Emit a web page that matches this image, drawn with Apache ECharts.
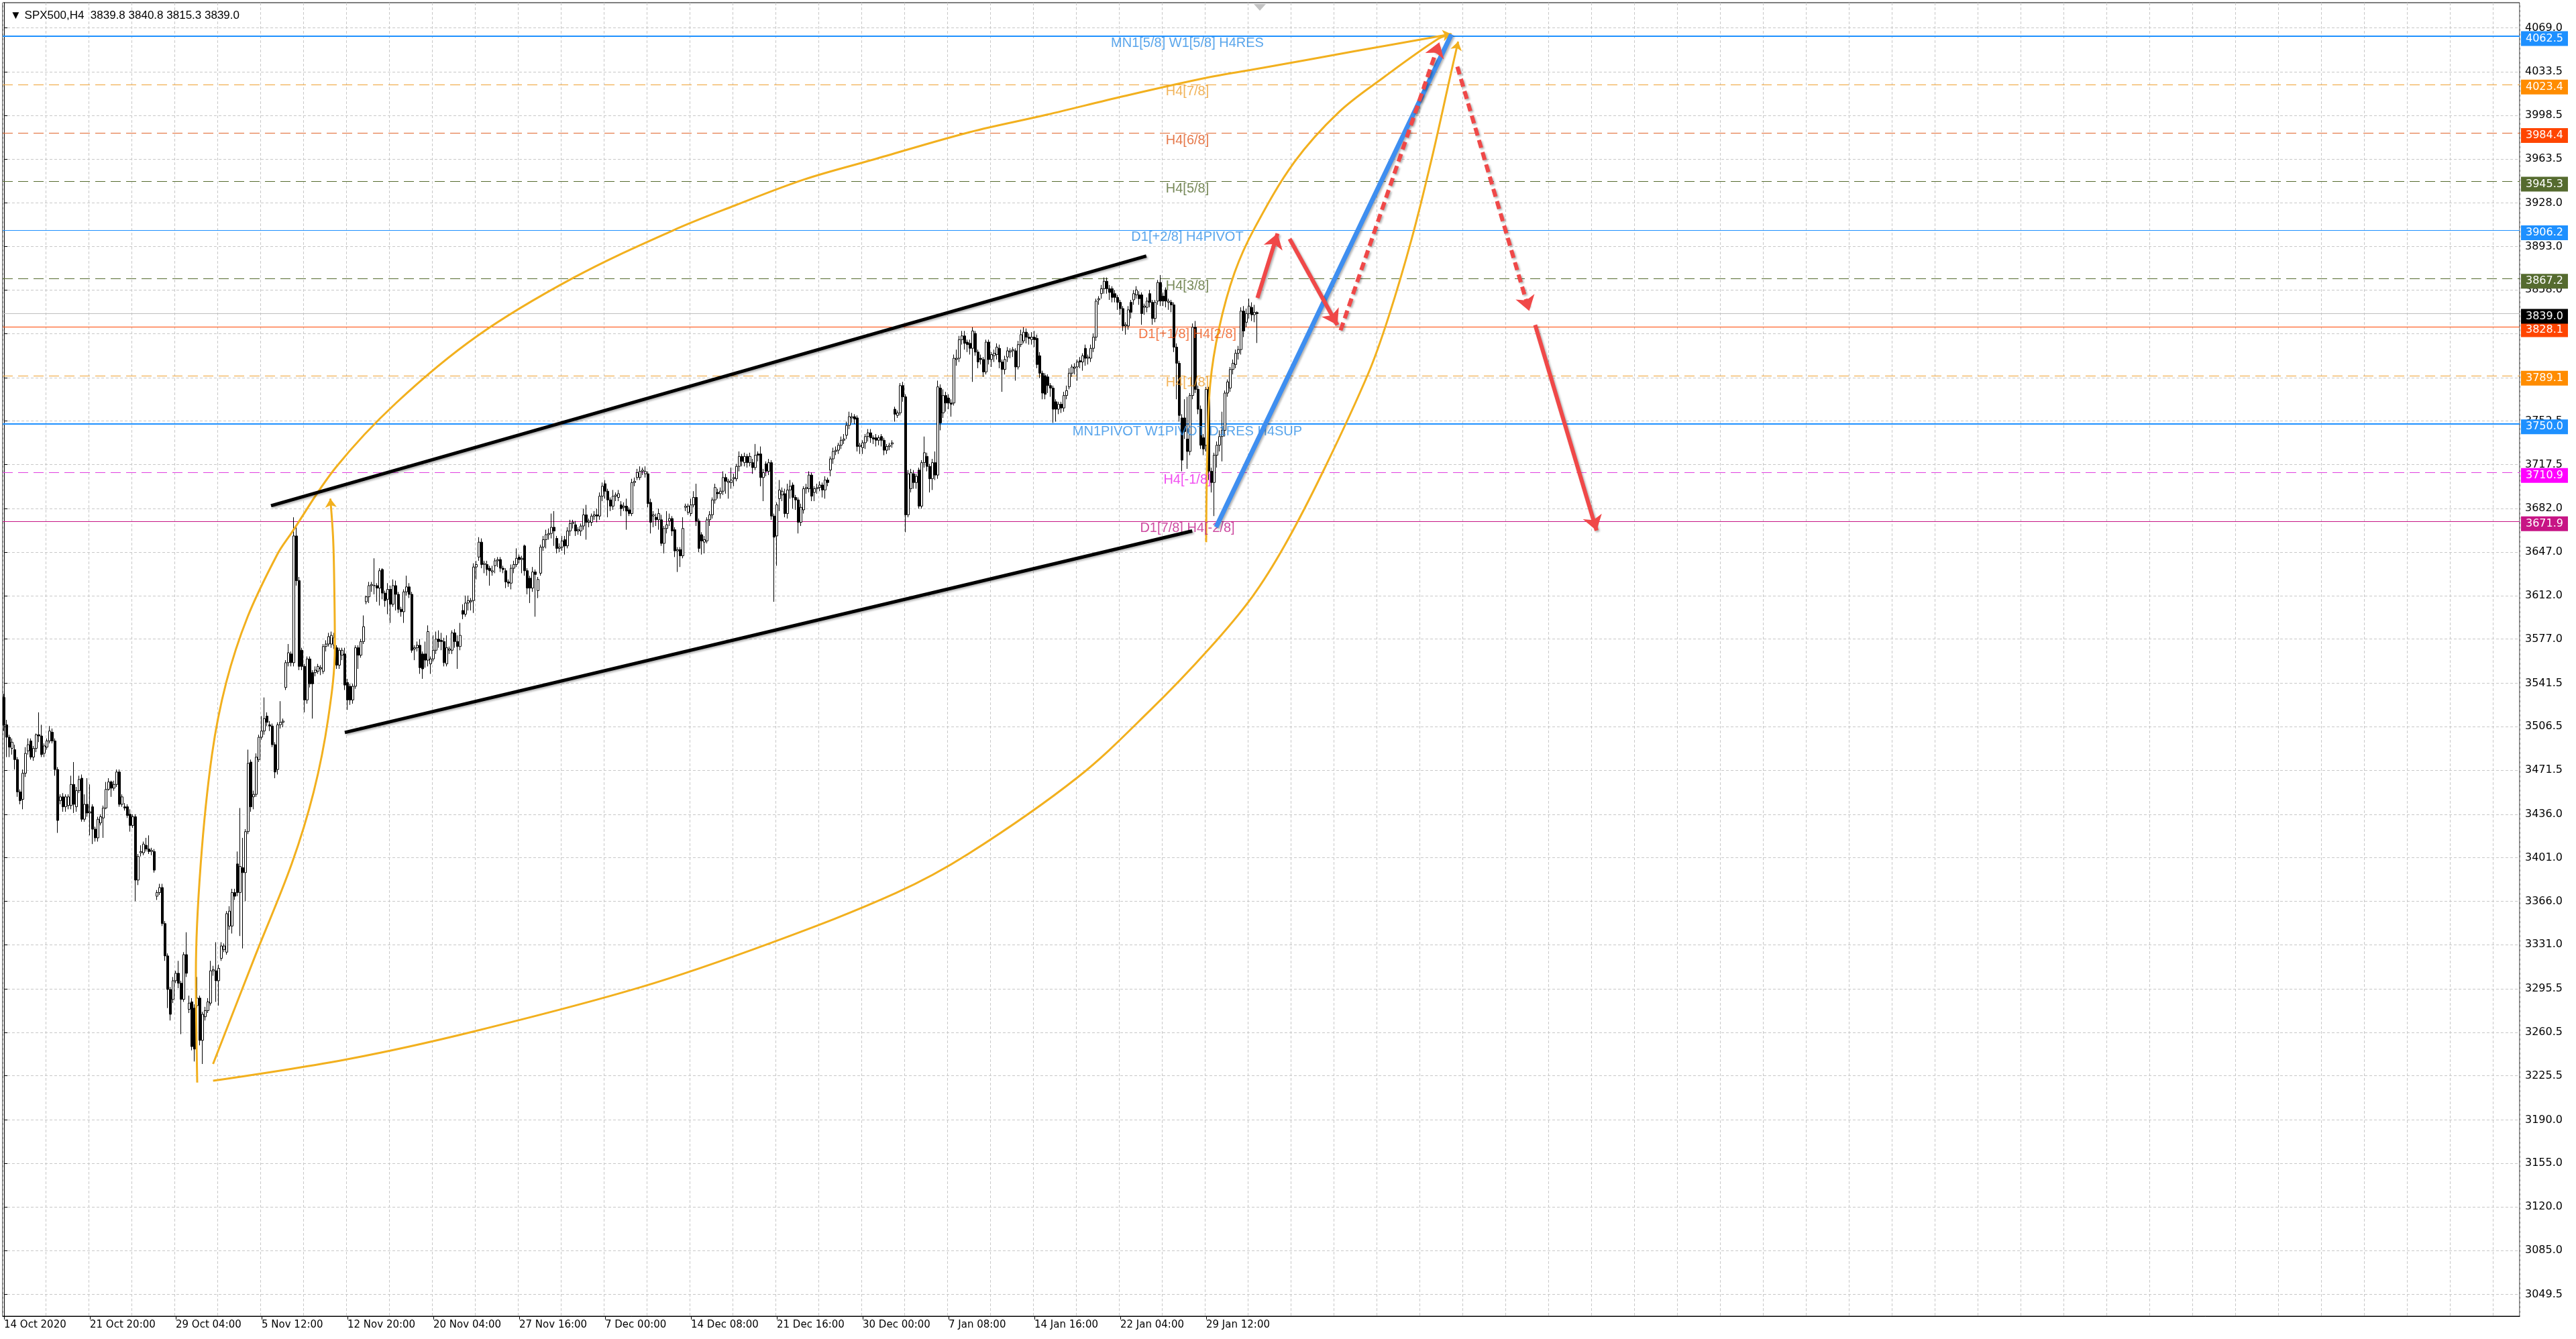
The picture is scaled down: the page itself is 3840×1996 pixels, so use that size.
<!DOCTYPE html>
<html><head><meta charset="utf-8">
<script src="https://cdn.jsdelivr.net/npm/echarts@6/dist/echarts.min.js"></script>
<style>html,body{margin:0;padding:0;background:#fff;overflow:hidden}#c{width:3840px;height:1996px}</style>
</head><body><div id="c"></div>
<script>
const symbolName = 'SPX500,H4';
const timeLabels = ['14 Oct 2020','21 Oct 20:00','29 Oct 04:00','5 Nov 12:00','12 Nov 20:00','20 Nov 04:00','27 Nov 16:00','7 Dec 00:00','14 Dec 08:00','21 Dec 16:00','30 Dec 00:00','7 Jan 08:00','14 Jan 16:00','22 Jan 04:00','29 Jan 12:00'];
const priceTicks = [4069.0,4033.5,3998.5,3963.5,3928.0,3893.0,3858.0,3823.0,3787.5,3752.5,3717.5,3682.0,3647.0,3612.0,3577.0,3541.5,3506.5,3471.5,3436.0,3401.0,3366.0,3331.0,3295.5,3260.5,3225.5,3190.0,3155.0,3120.0,3085.0,3049.5];
// [open, close, low, high]
const candles = [
[3530,3508,3503,3533],[3508,3498,3482,3512],[3498,3490,3482,3500],[3489,3494,3484,3497],[3488,3480,3472,3492],[3480,3454,3450,3482],[3454,3447,3444,3456],[3448,3469,3440,3472],[3469,3485,3466,3490],[3487,3492,3484,3497],
[3495,3482,3480,3497],[3482,3489,3479,3491],[3489,3500,3486,3501],[3500,3499,3494,3518],[3499,3484,3482,3508],[3485,3491,3482,3493],[3490,3495,3488,3497],[3495,3503,3493,3507],[3502,3495,3493,3505],[3495,3472,3467,3497],
[3472,3431,3421,3474],[3447,3450,3444,3452],[3450,3442,3438,3453],[3442,3450,3438,3452],[3443,3450,3440,3452],[3443,3460,3440,3467],[3460,3444,3437,3478],[3442,3455,3438,3458],[3455,3464,3453,3467],[3465,3432,3430,3468],
[3432,3444,3430,3452],[3444,3437,3434,3465],[3437,3438,3419,3460],[3442,3424,3412,3444],[3424,3417,3414,3426],[3417,3432,3414,3434],[3429,3434,3427,3436],[3433,3441,3417,3443],[3441,3456,3440,3462],[3456,3462,3455,3465],
[3462,3457,3450,3463],[3457,3460,3455,3463],[3460,3470,3458,3472],[3470,3444,3442,3472],[3444,3450,3442,3452],[3442,3441,3439,3445],[3442,3435,3433,3444],[3436,3427,3422,3440],[3427,3434,3425,3436],[3434,3383,3366,3436],
[3383,3402,3379,3404],[3405,3406,3402,3411],[3405,3412,3403,3414],[3411,3408,3406,3417],[3408,3406,3404,3419],[3406,3407,3403,3409],[3406,3391,3389,3408],[3370,3373,3367,3375],[3373,3377,3371,3380],[3377,3348,3346,3380],
[3348,3322,3318,3350],[3322,3295,3280,3324],[3295,3275,3270,3297],[3287,3302,3284,3305],[3302,3308,3300,3310],[3308,3300,3296,3318],[3300,3287,3259,3302],[3287,3323,3285,3325],[3323,3308,3305,3341],[3279,3284,3276,3290],
[3285,3249,3246,3288],[3280,3247,3237,3283],[3282,3288,3280,3305],[3288,3254,3250,3290],[3254,3275,3235,3277],[3273,3278,3270,3281],[3278,3285,3276,3288],[3284,3310,3282,3318],[3310,3311,3306,3314],[3310,3302,3285,3333],
[3302,3312,3282,3315],[3320,3330,3318,3333],[3327,3330,3325,3332],[3325,3356,3323,3358],[3346,3358,3343,3362],[3346,3373,3340,3376],[3373,3370,3367,3376],[3396,3373,3370,3406],[3373,3394,3338,3441],[3393,3389,3328,3417],
[3389,3422,3366,3424],[3422,3477,3420,3488],[3478,3442,3438,3480],[3450,3452,3440,3455],[3452,3482,3450,3485],[3480,3498,3478,3500],[3498,3503,3496,3515],[3503,3513,3500,3530],[3515,3510,3507,3518],[3508,3507,3503,3511],
[3507,3492,3490,3509],[3492,3470,3465,3494],[3472,3508,3468,3510],[3508,3510,3505,3527],[3510,3511,3506,3513],[3538,3558,3536,3560],[3558,3566,3555,3573],[3565,3558,3555,3567],[3558,3660,3555,3675],[3660,3624,3620,3669],
[3624,3555,3552,3627],[3568,3555,3552,3570],[3555,3528,3518,3557],[3528,3561,3525,3563],[3561,3541,3538,3563],[3550,3541,3513,3552],[3550,3552,3547,3555],[3551,3555,3549,3557],[3553,3554,3548,3556],[3551,3571,3549,3573],
[3571,3573,3567,3576],[3573,3579,3571,3582],[3573,3580,3570,3583],[3572,3578,3569,3582],[3570,3556,3553,3572],[3556,3568,3553,3570],[3564,3568,3560,3570],[3565,3540,3536,3570],[3542,3528,3520,3545],[3539,3528,3524,3541],
[3528,3539,3525,3541],[3539,3570,3537,3572],[3570,3564,3553,3572],[3564,3575,3562,3577],[3575,3587,3573,3596],[3607,3611,3605,3612],[3611,3620,3606,3623],[3620,3621,3615,3623],[3620,3620,3613,3642],[3620,3618,3607,3622],
[3618,3632,3604,3634],[3633,3614,3609,3634],[3614,3608,3603,3616],[3609,3617,3597,3622],[3617,3605,3590,3620],[3605,3620,3603,3625],[3620,3613,3600,3624],[3613,3601,3598,3615],[3601,3599,3595,3603],[3599,3615,3590,3617],
[3615,3619,3612,3628],[3619,3613,3610,3622],[3613,3568,3566,3615],[3569,3570,3560,3572],[3570,3572,3567,3575],[3572,3554,3549,3577],[3565,3553,3545,3567],[3565,3560,3554,3575],[3560,3583,3555,3588],[3557,3561,3549,3563],
[3561,3568,3559,3580],[3568,3577,3565,3583],[3577,3575,3570,3584],[3576,3575,3568,3582],[3575,3558,3555,3578],[3557,3570,3555,3580],[3568,3569,3565,3571],[3568,3582,3565,3584],[3582,3575,3570,3585],[3575,3571,3553,3580],
[3571,3580,3568,3590],[3600,3597,3593,3605],[3597,3606,3595,3612],[3606,3608,3600,3612],[3607,3608,3600,3610],[3608,3635,3598,3638],[3635,3637,3625,3640],[3643,3655,3640,3659],[3655,3637,3634,3658],[3637,3638,3630,3640],
[3637,3633,3628,3640],[3634,3632,3620,3636],[3631,3632,3628,3636],[3636,3640,3630,3642],[3640,3641,3635,3643],[3641,3634,3631,3643],[3634,3633,3630,3636],[3632,3623,3618,3634],[3623,3622,3619,3625],[3622,3634,3617,3637],
[3634,3637,3630,3640],[3637,3642,3635,3650],[3643,3641,3638,3645],[3641,3642,3630,3644],[3652,3632,3628,3653],[3632,3618,3613,3634],[3626,3618,3606,3628],[3618,3631,3615,3635],[3631,3629,3595,3633],[3616,3625,3610,3627],
[3630,3651,3628,3653],[3651,3657,3648,3660],[3657,3661,3650,3665],[3661,3662,3657,3666],[3662,3667,3658,3678],[3667,3664,3652,3680],[3658,3650,3646,3660],[3650,3651,3647,3654],[3651,3656,3648,3660],[3657,3652,3645,3660],
[3652,3664,3650,3667],[3664,3670,3660,3673],[3670,3671,3666,3673],[3669,3664,3660,3672],[3664,3665,3661,3667],[3664,3668,3660,3670],[3668,3677,3665,3682],[3677,3671,3657,3685],[3671,3672,3667,3674],[3671,3676,3668,3678],
[3676,3677,3673,3680],[3677,3676,3671,3682],[3676,3692,3673,3695],[3692,3700,3688,3703],[3702,3696,3690,3705],[3696,3689,3675,3698],[3689,3684,3680,3691],[3684,3692,3681,3697],[3692,3693,3688,3695],[3691,3694,3688,3697],
[3685,3682,3676,3688],[3683,3684,3680,3687],[3684,3680,3665,3690],[3681,3678,3676,3683],[3678,3703,3676,3706],[3703,3704,3700,3707],[3707,3711,3705,3714],[3707,3712,3705,3716],[3712,3713,3709,3715],[3710,3712,3707,3716],
[3710,3686,3683,3712],[3687,3671,3662,3690],[3676,3677,3667,3680],[3675,3673,3668,3678],[3673,3678,3665,3682],[3673,3654,3652,3677],[3654,3666,3646,3668],[3666,3669,3662,3680],[3672,3674,3668,3678],[3674,3664,3660,3676],
[3665,3648,3643,3667],[3648,3649,3631,3651],[3649,3644,3635,3651],[3644,3666,3642,3675],[3683,3684,3680,3686],[3679,3684,3677,3686],[3678,3685,3676,3690],[3685,3691,3683,3696],[3691,3672,3668,3702],[3672,3650,3647,3674],
[3661,3656,3645,3663],[3655,3657,3646,3660],[3656,3673,3654,3675],[3673,3677,3668,3680],[3677,3689,3674,3691],[3689,3699,3686,3702],[3695,3694,3690,3698],[3694,3696,3690,3699],[3696,3707,3693,3712],[3707,3704,3694,3710],
[3703,3704,3690,3706],[3703,3705,3698,3715],[3706,3707,3700,3710],[3706,3716,3704,3718],[3716,3724,3712,3728],[3724,3720,3716,3726],[3719,3724,3716,3727],[3724,3719,3715,3726],[3719,3724,3716,3727],[3719,3715,3710,3722],
[3715,3725,3713,3734],[3726,3725,3720,3728],[3726,3707,3700,3732],[3707,3711,3688,3714],[3718,3712,3708,3720],[3712,3719,3709,3722],[3719,3676,3673,3721],[3676,3659,3607,3678],[3660,3685,3636,3687],[3690,3697,3680,3705],
[3693,3696,3688,3699],[3694,3678,3675,3698],[3678,3697,3674,3702],[3697,3700,3690,3705],[3701,3691,3682,3703],[3691,3689,3681,3693],[3689,3671,3662,3691],[3671,3683,3668,3686],[3681,3698,3678,3700],[3698,3699,3694,3702],
[3698,3709,3695,3712],[3709,3692,3688,3711],[3695,3698,3688,3700],[3698,3699,3694,3702],[3699,3701,3696,3704],[3701,3697,3691,3703],[3697,3705,3690,3708],[3705,3703,3700,3707],[3713,3722,3708,3724],[3722,3728,3718,3731],
[3728,3729,3725,3732],[3729,3733,3726,3735],[3733,3737,3730,3740],[3737,3738,3734,3742],[3741,3749,3738,3752],[3749,3756,3746,3760],[3755,3756,3751,3759],[3756,3754,3750,3758],[3755,3732,3728,3757],[3732,3733,3726,3735],
[3731,3735,3726,3737],[3735,3740,3730,3742],[3740,3743,3736,3746],[3743,3739,3735,3746],[3739,3738,3734,3741],[3739,3737,3732,3742],[3737,3739,3733,3741],[3740,3737,3732,3742],[3737,3729,3725,3739],[3729,3732,3726,3734],
[3732,3733,3729,3735],[3734,3735,3731,3737],[3762,3758,3752,3764],[3757,3759,3755,3761],[3759,3781,3757,3783],[3781,3772,3768,3784],[3772,3677,3663,3774],[3677,3710,3675,3713],[3698,3711,3695,3714],[3710,3703,3698,3713],
[3703,3708,3698,3710],[3713,3684,3682,3715],[3684,3719,3682,3721],[3719,3727,3715,3740],[3724,3716,3712,3727],[3716,3706,3695,3718],[3706,3719,3697,3722],[3719,3709,3705,3728],[3709,3780,3706,3785],[3779,3751,3745,3782],
[3759,3773,3755,3778],[3773,3767,3760,3776],[3771,3767,3762,3774],[3767,3766,3756,3770],[3767,3803,3765,3806],[3802,3803,3797,3810],[3803,3818,3800,3821],[3818,3821,3814,3825],[3821,3815,3810,3825],[3816,3814,3808,3818],
[3815,3811,3806,3818],[3811,3825,3784,3828],[3823,3808,3805,3825],[3808,3800,3795,3810],[3803,3802,3798,3806],[3802,3792,3788,3804],[3792,3816,3790,3818],[3816,3802,3798,3818],[3802,3806,3796,3808],[3805,3807,3800,3810],
[3806,3812,3802,3815],[3811,3800,3795,3814],[3800,3794,3776,3802],[3794,3802,3790,3805],[3804,3809,3800,3812],[3808,3809,3803,3811],[3809,3810,3804,3812],[3809,3796,3785,3811],[3796,3814,3794,3817],[3814,3822,3812,3826],
[3817,3824,3815,3828],[3824,3820,3815,3827],[3820,3819,3814,3823],[3818,3820,3814,3824],[3820,3818,3812,3825],[3819,3798,3795,3822],[3805,3791,3787,3808],[3791,3775,3770,3793],[3789,3774,3770,3791],[3788,3781,3775,3790],
[3781,3779,3772,3783],[3779,3762,3751,3781],[3768,3762,3752,3770],[3762,3766,3758,3768],[3766,3763,3759,3768],[3763,3773,3760,3776],[3773,3777,3770,3781],[3780,3791,3778,3795],[3791,3796,3788,3798],[3795,3796,3790,3799],
[3796,3800,3785,3802],[3801,3800,3795,3804],[3800,3805,3793,3807],[3811,3803,3797,3814],[3803,3804,3798,3806],[3803,3811,3800,3814],[3811,3820,3808,3823],[3820,3849,3817,3851],[3850,3851,3846,3853],[3855,3859,3851,3862],
[3859,3865,3855,3868],[3865,3859,3855,3868],[3859,3856,3850,3862],[3859,3852,3848,3861],[3855,3852,3848,3858],[3852,3848,3842,3854],[3848,3843,3838,3850],[3843,3829,3825,3845],[3829,3830,3822,3832],[3829,3842,3826,3845],
[3848,3840,3835,3850],[3850,3855,3846,3858],[3854,3858,3851,3861],[3854,3851,3846,3857],[3854,3839,3830,3856],[3844,3845,3838,3847],[3844,3849,3840,3852],[3855,3848,3844,3858],[3848,3835,3830,3850],[3835,3848,3832,3850],
[3849,3864,3846,3866],[3864,3849,3845,3870],[3853,3849,3845,3856],[3858,3849,3844,3860],[3848,3849,3842,3851],[3848,3846,3840,3850],[3846,3812,3808,3848],[3812,3799,3770,3815],[3799,3757,3752,3801],[3755,3721,3712,3758],
[3755,3744,3738,3770],[3738,3728,3714,3772],[3728,3773,3725,3775],[3773,3828,3770,3831],[3828,3778,3775,3833],[3778,3762,3758,3781],[3762,3733,3730,3765],[3739,3730,3725,3742],[3733,3778,3728,3780],[3778,3712,3705,3780],
[3712,3703,3695,3715],[3703,3725,3676,3727],[3725,3733,3715,3736],[3733,3740,3728,3745],[3740,3745,3720,3760],[3745,3775,3740,3777],[3775,3784,3772,3786],[3779,3794,3776,3796],[3794,3799,3790,3802],[3798,3807,3795,3810],
[3807,3810,3802,3813],[3810,3841,3806,3844],[3841,3825,3820,3845],[3832,3839,3828,3843],[3839,3845,3835,3851],[3844,3838,3833,3848],[3838,3840,3832,3846],[3839.8,3839.0,3815.3,3840.8]
];
const levelPrices = [4062.5, 4023.4, 3984.4, 3945.3, 3906.2, 3867.2, 3828.1, 3789.1, 3750.0, 3710.9, 3671.9];
const levelNames = ['MN1[5/8] W1[5/8] H4RES','H4[7/8]','H4[6/8]','H4[5/8]','D1[+2/8] H4PIVOT','H4[3/8]','D1[+1/8] H4[2/8]','H4[1/8]','MN1PIVOT W1PIVOT D1RES H4SUP','H4[-1/8]','D1[7/8] H4[-2/8]'];
// drawn objects: [bar index, price]
const arcA = [[72.0,3220],[71.5,3308],[73.3,3396],[77.5,3484],[82.8,3542],[90.8,3595],[101.8,3645],[107.0,3662],[123.6,3715],[146.1,3767],[176.4,3821],[212.4,3868],[249.4,3906],[272.4,3926],[298.3,3947],[324.1,3963],[359.9,3985],[388.6,3999],[417.4,4014],[448.6,4029],[469.6,4037],[503.1,4050],[539.4,4064]];
const arcB = [[77.9,3235],[93.6,3322],[107.2,3396],[115.4,3454],[120.8,3513],[123.3,3571],[123.0,3630],[122.6,3660],[121.6,3690]];
const arcC = [[77.9,3221.5],[128.6,3239.1],[174.9,3261.1],[237.4,3296.9],[286.1,3332.7],[332.4,3372.6],[359.4,3404.1],[400.1,3465.7],[427.1,3519.6],[448.9,3568.7],[465.1,3610.8],[477.4,3652.9],[491.9,3713.4],[508.6,3791.7],[516.1,3837.1],[524.6,3899.2],[532.1,3964.0],[538.9,4029.3],[541.9,4057.9]];
const arcD = [[448,3655],[448.4,3724],[449.5,3782],[452.8,3827],[458.6,3872],[466.1,3908],[480.9,3961],[497.4,4001],[514.1,4029],[534.4,4060],[539.4,4064]];
const channelUpper = [[99.5,3684.3],[425.7,3885.3]];
const channelLower = [[127,3501.8],[442.8,3664]];
const blueMove = [[451.7,3667.1],[539.4,4063.7]];
const redSolid = [[[467.1,3851.6],[474.6,3903.4]],[[479.1,3899.1],[496.9,3829.8]],[[570.6,3829.8],[593.5,3664.3]]];
const redDashed = [[[498.1,3825.5],[534.9,4057.4]],[[541.6,4037.7],[568.4,3841.1]]];

// ---- styles ----
const N_BARS = 938;
const LABEL_BAR = 441;
const ORANGE = '#f2b01e';
const levelStyle = [
  {c:'#1e90ff', t:'solid', w:2, badge:'#1e90ff', txt:'#2f8ee6'},
  {c:'#f0a030', t:[15,8], w:1, badge:'#ff8c00', txt:'#eda030'},
  {c:'#e0642c', t:[15,8], w:1, badge:'#ff4500', txt:'#e0581e'},
  {c:'#556b2f', t:[15,8], w:1, badge:'#556b2f', txt:'#556b2f'},
  {c:'#1e90ff', t:'solid', w:1, badge:'#1e90ff', txt:'#2f8ee6'},
  {c:'#556b2f', t:[15,8], w:1, badge:'#556b2f', txt:'#556b2f'},
  {c:'#ff4500', t:'solid', w:1, badge:'#ff4500', txt:'#f0581a'},
  {c:'#f0a030', t:[15,8], w:1, badge:'#ff8c00', txt:'#f0a030'},
  {c:'#1e90ff', t:'solid', w:2, badge:'#1e90ff', txt:'#2f8ee6'},
  {c:'#e040e0', t:[15,8], w:1, badge:'#ff00ff', txt:'#ee22ee'},
  {c:'#c71585', t:'solid', w:1, badge:'#c71585', txt:'#c0208a'}
];
const lastBar = candles[candles.length - 1];
const lastPrice = lastBar[1];

const badge = (p, bg) => ({
  show: true, position: 'end', distance: 2, formatter: p.toFixed(1),
  backgroundColor: bg, color: '#fff', padding: [3, 7, 3, 7],
  fontSize: 16, fontFamily: 'DejaVu Sans', lineHeight: 16, offset: [0, 4]
});
const markData = levelPrices.map((p, k) => ({
  yAxis: p,
  lineStyle: {color: levelStyle[k].c, type: levelStyle[k].t, width: levelStyle[k].w},
  label: badge(p, levelStyle[k].badge)
}));
markData.push({yAxis: lastPrice, lineStyle: {color: '#c0c0c0', type: 'solid', width: 1}, label: badge(lastPrice, '#000')});

const arcSeries = [arcA, arcB, arcC, arcD].map(a => ({
  type: 'line', xAxisIndex: 1, yAxisIndex: 0, data: a, smooth: 0.35, showSymbol: false, silent: true,
  lineStyle: {color: ORANGE, width: 3}, z: 4
}));
const arcHeads = {
  type: 'lines', coordinateSystem: 'cartesian2d', xAxisIndex: 1, yAxisIndex: 0, silent: true, z: 4,
  symbol: ['none', 'arrow'], symbolSize: 13,
  lineStyle: {color: ORANGE, width: 1, opacity: 1},
  data: [arcA, arcB, arcC].map(a => ({coords: [a[a.length - 2], a[a.length - 1]]}))
};
const shadow = {shadowColor: 'rgba(0,0,0,0.3)', shadowBlur: 3, shadowOffsetX: 2, shadowOffsetY: 2};

const option = {
  animation: false,
  backgroundColor: '#ffffff',
  title: {
    text: '\u25BC ' + symbolName + '  ' + [lastBar[0], lastBar[3], lastBar[2], lastBar[1]].map(v => v.toFixed(1)).join(' '),
    left: 10, top: 10,
    textStyle: {fontSize: 17, fontWeight: 'normal', fontFamily: 'Liberation Sans', color: '#000'}
  },
  grid: {left: 4, right: 84, top: 4, bottom: 34, show: true, borderColor: '#000', borderWidth: 1},
  xAxis: [{
    type: 'category', data: Array.from({length: N_BARS}, (_, i) => i), boundaryGap: true,
    axisLine: {lineStyle: {color: '#000', width: 1}},
    axisTick: {show: true, alignWithLabel: true, length: 5, interval: i => i % 32 === 0 && i / 32 < timeLabels.length, lineStyle: {color: '#000'}},
    axisLabel: {interval: i => i % 32 === 0 && i / 32 < timeLabels.length, formatter: (v, i) => timeLabels[i / 32] || '',
      align: 'left', margin: 6, fontSize: 15, fontFamily: 'DejaVu Sans', color: '#000'},
    splitLine: {show: true, interval: i => i % 16 === 0, lineStyle: {color: '#c8c8c8', type: [4, 3], width: 1}}
  }, {
    type: 'value', min: -0.5, max: N_BARS - 0.5, show: false
  }],
  yAxis: [{
    type: 'value', position: 'right', min: 3032.0, max: 4089.2, scale: true,
    axisLine: {show: true, lineStyle: {color: '#000', width: 1}},
    axisTick: {show: true, length: 5, customValues: priceTicks, lineStyle: {color: '#000'}},
    axisLabel: {customValues: priceTicks, formatter: v => v.toFixed(1), margin: 8, fontSize: 16, fontFamily: 'DejaVu Sans', color: '#000'},
    splitLine: {show: true, lineStyle: {color: '#c8c8c8', type: [4, 3], width: 1}}
  }],
  series: [
    {
      type: 'candlestick', xAxisIndex: 0, yAxisIndex: 0, data: candles, barWidth: 3, clip: false, z: 3,
      itemStyle: {color: '#ffffff', color0: '#000000', borderColor: '#000000', borderColor0: '#000000', borderWidth: 1},
      markLine: {silent: true, symbol: ['none', 'none'], animation: false, precision: 1, data: markData, z: 2}
    },
    {
      type: 'scatter', xAxisIndex: 1, yAxisIndex: 0, silent: true, symbolSize: 0, z: 5,
      data: levelPrices.map((p, k) => ({
        value: [LABEL_BAR, p],
        label: {show: true, position: 'bottom', distance: 1, formatter: levelNames[k], color: levelStyle[k].txt,
          fontSize: 20, fontFamily: 'Liberation Sans'}
      }))
    },
    ...arcSeries,
    arcHeads,
    {
      type: 'line', xAxisIndex: 1, yAxisIndex: 0, silent: true, showSymbol: false, z: 6,
      data: channelUpper, lineStyle: Object.assign({color: '#000', width: 5}, shadow)
    },
    {
      type: 'line', xAxisIndex: 1, yAxisIndex: 0, silent: true, showSymbol: false, z: 6,
      data: channelLower, lineStyle: Object.assign({color: '#000', width: 5}, shadow)
    },
    {
      type: 'line', xAxisIndex: 1, yAxisIndex: 0, silent: true, showSymbol: false, z: 6,
      data: blueMove, lineStyle: Object.assign({color: '#3e8ef0', width: 7}, shadow)
    },
    {
      type: 'lines', coordinateSystem: 'cartesian2d', xAxisIndex: 1, yAxisIndex: 0, silent: true, z: 7,
      symbol: ['none', 'arrow'], symbolSize: 22,
      lineStyle: Object.assign({color: '#f04848', width: 6, opacity: 1, type: 'solid'}, shadow),
      data: redSolid.map(c => ({coords: c}))
    },
    {
      type: 'lines', coordinateSystem: 'cartesian2d', xAxisIndex: 1, yAxisIndex: 0, silent: true, z: 7,
      symbol: ['none', 'arrow'], symbolSize: 22,
      lineStyle: Object.assign({color: '#f04848', width: 6, opacity: 1, type: [12, 7]}, shadow),
      data: redDashed.map(c => ({coords: c}))
    },
    {
      type: 'scatter', xAxisIndex: 1, yAxisIndex: 0, silent: true, z: 8,
      symbol: 'triangle', symbolRotate: 180, symbolSize: [18, 10], symbolOffset: [0, 7],
      itemStyle: {color: '#b4b4b4'},
      data: [[candles.length, 4089.2]]
    }
  ]
};
const chart = echarts.init(document.getElementById('c'), null, {renderer: 'canvas'});
chart.setOption(option);
</script>
</body></html>
